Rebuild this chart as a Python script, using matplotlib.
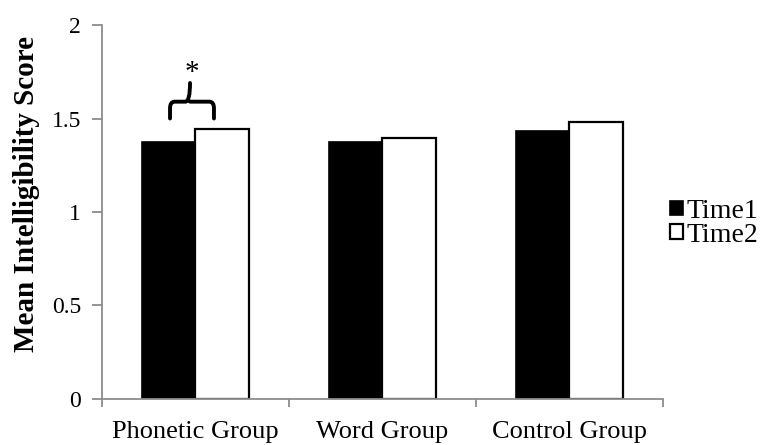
import matplotlib
matplotlib.use("Agg")
import matplotlib.pyplot as plt
from matplotlib.path import Path
from matplotlib.patches import PathPatch
import numpy as np

groups = ["Phonetic Group", "Word Group", "Control Group"]
time1 = [1.375, 1.375, 1.435]
time2 = [1.443, 1.395, 1.479]
series_names = ["Time1", "Time2"]
yticks = [0, 0.5, 1, 1.5, 2]
ytick_labels = ["0", "0.5", "1", "1.5", "2"]

plt.rcParams["font.family"] = ["Liberation Serif", "DejaVu Serif"]

fig = plt.figure(figsize=(7.61, 4.45), dpi=100)
ax = fig.add_axes([0.134, 0.1034, 0.737, 0.8404])

x = np.arange(len(groups))
w = 0.286
ax.bar(x - w / 2, time1, w, color="black", edgecolor="black", linewidth=1.2,
       label=series_names[0])
ax.bar(x + w / 2, time2, w, color="white", edgecolor="black", linewidth=1.6,
       label=series_names[1])

ax.set_xlim(-0.5, 2.5)
ax.set_ylim(0, 2)

# axes styling
for s in ["top", "right"]:
    ax.spines[s].set_visible(False)
for s in ["left", "bottom"]:
    ax.spines[s].set_color("#8c8c8c")
    ax.spines[s].set_linewidth(1.3)

ax.set_yticks(yticks)
ax.set_yticklabels(ytick_labels)
ax.tick_params(axis="y", direction="out", length=7, width=1.3, color="#8c8c8c",
               labelsize=17, pad=8)

ax.set_xticks([-0.5, 0.5, 1.5, 2.5])
ax.set_xticklabels([])
ax.tick_params(axis="x", which="major", direction="out", length=6, width=1.3,
               color="#8c8c8c")
ax.set_xticks(x, minor=True)
ax.set_xticklabels(groups, minor=True)
ax.tick_params(axis="x", which="minor", length=0, labelsize=19, pad=16)

ax.set_ylabel("Mean Intelligibility Score", fontsize=21, fontweight="bold")
ax.yaxis.set_label_coords(-0.11, 0.548)

# significance brace over Phonetic Group
xl, xr, xm = -0.136, 0.099, -0.029
yb, yh, yt = 1.50, 1.59, 1.69
r = 0.025
verts = [
    (xl, yb), (xl, yh - 0.035), (xl, yh), (xl + r, yh),
    (xm - r, yh), (xm, yh), (xm, yt),
    (xm, yh), (xm + r, yh),
    (xr - r, yh), (xr, yh), (xr, yh - 0.035), (xr, yb),
]
codes = [
    Path.MOVETO, Path.LINETO, Path.CURVE3, Path.CURVE3,
    Path.LINETO, Path.CURVE3, Path.CURVE3,
    Path.MOVETO, Path.CURVE3,
    Path.LINETO, Path.CURVE3, Path.CURVE3, Path.LINETO,
]
ax.add_patch(PathPatch(Path(verts, codes), fill=False, lw=2.8, color="black",
                       capstyle="round", clip_on=False))
ax.text(xm + 0.01, 1.745, "*", ha="center", va="center", fontsize=21)

leg = ax.legend(loc="center left", bbox_to_anchor=(1.013, 0.47), frameon=False,
                fontsize=20, handlelength=0.45, handleheight=0.45,
                handletextpad=0.15, labelspacing=-0.05, borderaxespad=0.0,
                borderpad=0.0)

fig.savefig("out.png", dpi=100)
